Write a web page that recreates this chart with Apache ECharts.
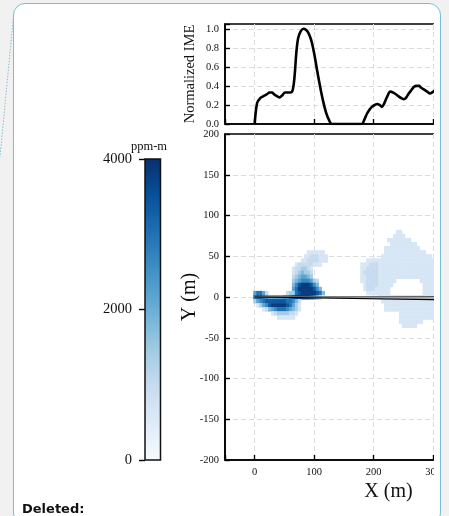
<!DOCTYPE html>
<html>
<head>
<meta charset="utf-8">
<script src="https://cdn.jsdelivr.net/npm/echarts@6/dist/echarts.min.js"></script>
<style>
  html, body { margin: 0; padding: 0; background: #f1f1f1; width: 449px; height: 516px; overflow: hidden; }
  #card { position: absolute; left: 13px; top: 3px; width: 428px; height: 522px; box-sizing: border-box;
          border: 1.5px solid #72c2d1; border-radius: 12px; background: #fff; }
  #clip { position: absolute; left: 0; top: 0; width: 434px; height: 516px; overflow: hidden; }
  #chart { position: absolute; left: 0; top: 0; width: 449px; height: 516px; }
</style>
</head>
<body>
<div id="card"></div>
<div id="clip"><div id="chart"></div></div>
<script>
// Normalized integrated mass enhancement along the plume axis
const imeDistance = [0, 4, 9, 14, 20, 25, 29, 33, 38, 42, 46, 51, 56, 60, 64, 67, 70, 73, 77, 82, 86, 90, 95, 100,
  105, 110, 115, 120, 125, 130, 180, 184, 189, 193, 197, 202, 206, 210, 214, 218, 223, 228, 233, 238, 242, 247,
  251, 255, 259, 264, 268, 272, 276, 280, 285, 290, 295, 298, 304];
const imeValue = [0, 0.22, 0.27, 0.29, 0.31, 0.33, 0.33, 0.31, 0.29, 0.28, 0.30, 0.33, 0.33, 0.33, 0.36, 0.50,
  0.75, 0.90, 0.97, 1.0, 0.99, 0.96, 0.88, 0.74, 0.56, 0.39, 0.24, 0.12, 0.04, 0, 0, 0.04, 0.11, 0.15, 0.18,
  0.20, 0.21, 0.20, 0.18, 0.22, 0.29, 0.34, 0.33, 0.31, 0.29, 0.27, 0.26, 0.28, 0.32, 0.36, 0.39, 0.40, 0.40,
  0.38, 0.36, 0.34, 0.32, 0.33, 0.36];

// Enhancement grid: 5 m cells, column 0 at X = 0, one string per row (Y below)
const plumeCellSize = 5;
const plumeColX0 = 0;
const plumeRowY = [80, 75, 70, 65, 60, 55, 50, 45, 40, 35, 30, 25, 20, 15, 10, 5, 0, -5, -10, -15, -20, -25, -30, -35];
// level digit -> ppm-m
const plumeLevelPpmM = [0, 650, 1000, 1400, 1800, 2200, 2600, 3000, 3400, 3800];
const plumeRows = [
  ".......... .......... .......... .......... ........11 .......... .",
  ".......... .......... .......... .......... .......111 1......... .",
  ".......... .......... .......... .......... .....11111 111....... .",
  ".......... .......... .......... .......... ......1111 11111..... .",
  ".......... .......... .......... .......... ....111111 111111.... .",
  ".......... ........11 1111...... .......... ....111111 11111111.. .",
  ".......... .......112 22111..... .......... ...1111111 1111111111 .",
  ".......... ......1122 22111..... ........11 1111111111 1111111111 1",
  ".......... ....122222 111....... ......1112 2211111111 1111111111 1",
  ".......... ...1223321 .......... ......1122 2211111111 1111111111 1",
  ".......... ...1234332 .......... ......1222 2211111111 1111111111 1",
  ".......... ...2345543 .......... ......1122 2211111111 1111111111 1",
  ".......... ...3456665 32........ ......1122 22111111.. ......1111 1",
  ".......... ...4689998 64........ .......122 2211111... .......111 1",
  ".......... ...5799999 864....... .......122 211111.... .......111 1",
  "57752..... .233789999 9874...... ........11 111111.... .......111 1",
  "7887655555 6678999998 753....... .......... ..11111111 1111111111 1",
  "3567888888 877642.... .......... .......... ...1111111 1111111111 1",
  ".135689999 987531.... .......... .......... ....111111 1111111111 1",
  "...1245677 765431.... .......... .......... ....111111 1111111111 1",
  "......1233 33221..... .......... .......... .........1 1111111111 1",
  "........11 1111...... .......... .......... .........1 1111111111 1",
  ".......... .......... .......... .......... .........1 1111111... .",
  ".......... .......... .......... .......... .......... 11111..... ."
];

// Transects from the source
const transectX = [0, 500];
const transectUpperY = [0, 1.0];
const transectMidY = [0, -2.2];
const transectLowerY = [0, -5.5];

// Tick labels
const xTickLabels = [0, 100, 200, 300, 400, 500];
const imeTickLabels = [0, 0.2, 0.4, 0.6, 0.8, 1.0];
const yTickLabels = [-200, -150, -100, -50, 0, 50, 100, 150, 200];
const cbarTickLabels = [0, 2000, 4000];
const cbarMax = 4000;

const BLUES = ['#f7fbff', '#deebf7', '#c6dbef', '#9ecae1', '#6baed6', '#4292c6', '#2171b5', '#08519c', '#08306b'];

const plumeData = [];
plumeRows.forEach((row, r) => {
  const cells = row.replace(/ /g, '');
  for (let c = 0; c < cells.length; c++) {
    const ch = cells[c];
    if (ch === '.') continue;
    plumeData.push([plumeColX0 + c * plumeCellSize, plumeRowY[r], plumeLevelPpmM[+ch]]);
  }
});

const serif = "'Liberation Serif', 'Times New Roman', serif";
const labelStyle = { color: '#111', fontFamily: serif, fontSize: 10.5 };
const gridLine = { show: true, showMinLine: false, showMaxLine: false,
                   lineStyle: { color: '#dcdcdc', type: [5, 3], width: 1 } };
const axisLine = { show: true, onZero: false, lineStyle: { color: '#000', width: 1.6 } };
const inTick = { show: true, inside: true, length: 5, lineStyle: { color: '#000', width: 1.4 } };

const chart = echarts.init(document.getElementById('chart'), null, { renderer: 'canvas' });

chart.setOption({
  animation: false,
  backgroundColor: 'transparent',
  graphic: [
    { type: 'line', shape: { x1: 13.5, y1: 16, x2: 0, y2: 157 },
      style: { stroke: '#7cc3d3', lineWidth: 1, lineDash: [1.5, 1.5] } },
    { type: 'text', x: 149, y: 147,
      style: { text: 'ppm-m', font: '12.5px ' + serif, fill: '#111', align: 'center', verticalAlign: 'middle' } },
    { type: 'text', x: 22, y: 503,
      style: { text: 'Deleted:', font: 'bold 13px "DejaVu Sans", Verdana, sans-serif', fill: '#111',
               align: 'left', verticalAlign: 'top' } }
  ],
  grid: [
    { left: 225, top: 24, width: 327, height: 100, show: true, borderColor: '#000', borderWidth: 1.6,
      outerBoundsMode: 'none', containLabel: false },
    { left: 225, top: 134, width: 327, height: 326, show: true, borderColor: '#000', borderWidth: 1.6,
      outerBoundsMode: 'none', containLabel: false },
    { left: 145, top: 159, width: 15.5, height: 301, outerBoundsMode: 'none', containLabel: false }
  ],
  visualMap: {
    show: false, type: 'continuous', seriesIndex: 0, dimension: 2,
    min: 0, max: cbarMax, inRange: { color: BLUES }
  },
  xAxis: [
    { gridIndex: 0, type: 'value', min: -50, max: 500, minInterval: 100, maxInterval: 100,
      axisLine, axisTick: inTick, axisLabel: { show: false }, splitLine: gridLine },
    { gridIndex: 1, type: 'value', min: -50, max: 500, minInterval: 100, maxInterval: 100,
      name: 'X (m)', nameLocation: 'middle', nameGap: 22, nameMoveOverlap: false,
      nameTextStyle: { fontFamily: serif, fontSize: 20, color: '#111' },
      axisLine, axisTick: inTick,
      axisLabel: Object.assign({}, labelStyle, { margin: 7,
        formatter: v => xTickLabels.includes(v) ? String(v) : '' }),
      splitLine: gridLine },
    { gridIndex: 2, type: 'value', min: 0, max: 1, show: false }
  ],
  yAxis: [
    { gridIndex: 0, type: 'value', min: 0, max: 1.05, interval: 0.2,
      name: 'Normalized IME', nameLocation: 'middle', nameGap: 27, nameMoveOverlap: false,
      nameTextStyle: { fontFamily: serif, fontSize: 14.5, color: '#111' },
      axisLine, axisTick: inTick,
      axisLabel: Object.assign({}, labelStyle, { margin: 6,
        formatter: v => imeTickLabels.some(t => Math.abs(t - v) < 1e-6) ? v.toFixed(1) : '' }),
      splitLine: gridLine },
    { gridIndex: 1, type: 'value', min: -200, max: 200, interval: 50,
      name: 'Y (m)', nameLocation: 'middle', nameGap: 25, nameMoveOverlap: false,
      nameTextStyle: { fontFamily: serif, fontSize: 20, color: '#111' },
      axisLine, axisTick: inTick,
      axisLabel: Object.assign({}, labelStyle, { margin: 6,
        formatter: v => yTickLabels.includes(v) ? String(v) : '' }),
      splitLine: gridLine },
    { gridIndex: 2, type: 'value', min: 0, max: cbarMax, interval: 2000,
      axisLine: { show: false, onZero: false },
      axisTick: { show: true, inside: false, length: 6, lineStyle: { color: '#000', width: 1.4 } },
      axisLabel: { fontFamily: serif, fontSize: 14.5, color: '#111', margin: 13,
        formatter: v => cbarTickLabels.includes(v) ? String(v) : '' },
      splitLine: { show: false } }
  ],
  series: [
    {
      type: 'custom', xAxisIndex: 1, yAxisIndex: 1, clip: true, z: 2,
      data: plumeData,
      encode: { x: 0, y: 1 },
      renderItem: (params, api) => {
        const x = api.value(0), y = api.value(1), h = plumeCellSize / 2;
        const p0 = api.coord([x - h, y + h]);
        const p1 = api.coord([x + h, y - h]);
        return { type: 'rect',
          shape: { x: p0[0], y: p0[1], width: p1[0] - p0[0] + 0.4, height: p1[1] - p0[1] + 0.4 },
          style: { fill: api.visual('color') } };
      }
    },
    { type: 'line', xAxisIndex: 1, yAxisIndex: 1, symbol: 'none', z: 3,
      data: transectX.map((x, i) => [x, transectMidY[i]]),
      lineStyle: { color: '#a8a8a8', width: 1.6 } },
    { type: 'line', xAxisIndex: 1, yAxisIndex: 1, symbol: 'none', z: 3,
      data: transectX.map((x, i) => [x, transectUpperY[i]]),
      lineStyle: { color: '#555', width: 1.1 } },
    { type: 'line', xAxisIndex: 1, yAxisIndex: 1, symbol: 'none', z: 3,
      data: transectX.map((x, i) => [x, transectLowerY[i]]),
      lineStyle: { color: '#000', width: 1.2 } },
    { type: 'line', xAxisIndex: 0, yAxisIndex: 0, symbol: 'none', smooth: 0.35, z: 3,
      data: imeDistance.map((x, i) => [x, imeValue[i]]),
      lineStyle: { color: '#000', width: 2.6 } },
    {
      type: 'custom', xAxisIndex: 2, yAxisIndex: 2, z: 2,
      data: [[0, 0]],
      renderItem: (params, api) => {
        const top = api.coord([0, cbarMax]);
        const bottom = api.coord([1, 0]);
        const stops = BLUES.map((c, i) => ({ offset: i / (BLUES.length - 1), color: BLUES[BLUES.length - 1 - i] }));
        return { type: 'rect',
          shape: { x: top[0], y: top[1], width: bottom[0] - top[0], height: bottom[1] - top[1] },
          style: { fill: new echarts.graphic.LinearGradient(0, 0, 0, 1, stops),
                   stroke: '#111', lineWidth: 1.5 } };
      }
    }
  ]
});
</script>
</body>
</html>
